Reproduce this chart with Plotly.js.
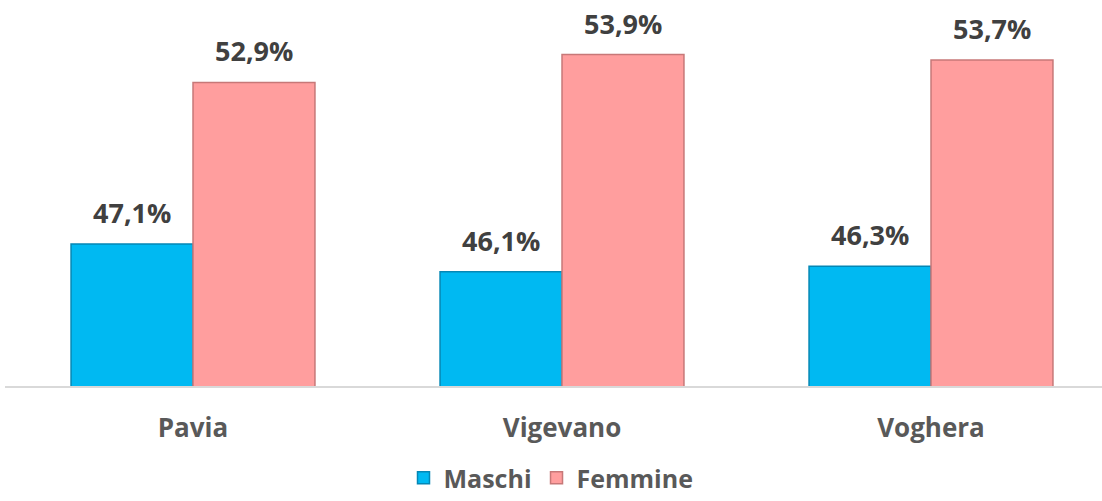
<!DOCTYPE html>
<html><head><meta charset="utf-8">
<script src="https://cdn.plot.ly/plotly-3.0.1.min.js"></script>
<style>body{margin:0;background:#fff}#chart{width:1102px;height:501px}</style>
</head><body><div id="chart"></div>
<script>
const categories = ["Pavia", "Vigevano", "Voghera"];
const maschi = [47.1, 46.1, 46.3];
const femmine = [52.9, 53.9, 53.7];
const seriesNames = ["Maschi", "Femmine"];

const fmt = v => v.toFixed(1).replace(".", ",") + "%";
const FONT = "'Open Sans', 'Liberation Sans', sans-serif";

const traces = [
  {type: "bar", name: seriesNames[0], x: categories, y: maschi,
   marker: {color: "#00B9F2", line: {color: "#0487B5", width: 1.5}}, hoverinfo: "none"},
  {type: "bar", name: seriesNames[1], x: categories, y: femmine,
   marker: {color: "#FF9E9E", line: {color: "#C77878", width: 1.5}}, hoverinfo: "none"}
];

const annotations = [];
categories.forEach((c, i) => {
  annotations.push({x: c, y: maschi[i], text: "<b>" + fmt(maschi[i]) + "</b>", showarrow: false,
    xanchor: "center", yanchor: "bottom", xshift: -61, yshift: 11,
    font: {family: FONT, size: 27, color: "#404040"}});
  annotations.push({x: c, y: femmine[i], text: "<b>" + fmt(femmine[i]) + "</b>", showarrow: false,
    xanchor: "center", yanchor: "bottom", xshift: 61, yshift: 11,
    font: {family: FONT, size: 27, color: "#404040"}});
});

const layout = {
  width: 1102, height: 501,
  margin: {l: 5, r: 0, t: 20, b: 115, autoexpand: false},
  paper_bgcolor: "#fff", plot_bgcolor: "#fff",
  barmode: "group", bargap: 0.339, bargroupgap: 0,
  xaxis: {range: [-0.5095, 2.4634], showgrid: false, zeroline: false,
    showline: true, linecolor: "#D9D9D9", linewidth: 2, ticks: "",
    ticklabelstandoff: 18, automargin: false,
    tickfont: {family: FONT, size: 26, color: "#595959", weight: "bold"}},
  yaxis: {range: [42, 55.14], showgrid: false, zeroline: false, showline: false,
    showticklabels: false, ticks: "", automargin: false},
  showlegend: true,
  legend: {orientation: "h", x: 0.5, xanchor: "center", xref: "container",
    y: 0, yanchor: "bottom", yref: "container",
    font: {family: FONT, size: 25, color: "#595959", weight: "bold"}, itemwidth: 30, traceorder: "normal"},
  annotations: annotations
};

Plotly.newPlot("chart", traces, layout, {displayModeBar: false, staticPlot: true});
</script></body></html>
